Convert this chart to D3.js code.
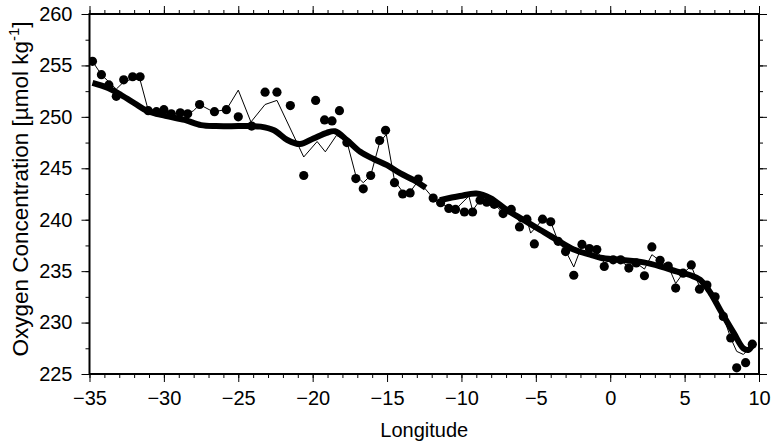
<!DOCTYPE html>
<html>
<head>
<meta charset="utf-8">
<script src="https://cdn.jsdelivr.net/npm/d3@7"></script>
<style>
  html, body { margin: 0; padding: 0; background: #fff; }
  svg { display: block; }
  text { font-family: "Liberation Sans", Arial, Helvetica, sans-serif; fill: #000; }
</style>
</head>
<body>
<svg id="chart" width="772" height="443"></svg>
<script>
// ---- Data ----
// Observed oxygen concentrations (dots): longitude, value
const dotLon = [-34.8,-34.2,-33.7,-33.2,-32.7,-32.1,-31.6,-31.05,-30.5,-30.0,-29.5,-28.9,-28.4,-27.6,-26.6,-25.8,-25.0,-24.1,-23.2,-22.4,-21.5,-20.6,-19.8,-19.2,-18.7,-18.2,-17.7,-17.1,-16.6,-16.1,-15.5,-15.1,-14.5,-13.95,-13.45,-12.9,-11.9,-11.4,-10.85,-10.4,-9.8,-9.25,-8.75,-8.3,-7.8,-7.2,-6.65,-6.1,-5.6,-5.1,-4.55,-4.0,-3.5,-3.0,-2.45,-1.9,-1.4,-0.9,-0.4,0.2,0.7,1.25,1.75,2.3,2.8,3.35,3.9,4.4,4.9,5.45,6.0,6.5,7.05,7.6,8.1,8.5,9.1,9.55];
const dotVal = [255.4,254.1,253.1,252.0,253.6,253.9,253.9,250.6,250.5,250.7,250.3,250.4,250.3,251.2,250.5,250.7,250.0,249.1,252.4,252.4,251.1,244.3,251.6,249.7,249.6,250.6,247.5,244.0,243.0,244.3,247.7,248.7,243.6,242.5,242.6,243.95,242.1,241.65,241.1,241.0,240.75,240.75,241.9,241.7,241.5,240.6,241.0,239.3,240.05,237.65,240.05,239.8,237.9,236.9,234.6,237.6,237.2,237.1,235.45,236.1,236.1,235.3,235.8,234.55,237.35,236.05,235.5,233.35,234.8,235.6,233.25,233.65,232.5,230.6,228.5,225.6,226.1,227.9];

// Thin line series
const thinLon = [-34.8,-34.2,-33.2,-32.7,-32.1,-31.6,-31.1,-30.5,-30.0,-29.5,-28.9,-28.4,-28.0,-27.6,-26.7,-25.8,-25.0,-24.15,-23.2,-22.4,-20.6,-19.7,-19.15,-18.4,-17.7,-17.1,-16.6,-16.1,-15.5,-15.05,-14.5,-13.95,-13.45,-12.9,-11.9,-11.4,-10.85,-10.4,-9.5,-9.25,-8.75,-8.3,-7.8,-7.2,-6.65,-6.1,-5.6,-5.35,-4.55,-4.0,-3.5,-3.0,-2.45,-1.9,-1.4,-0.9,-0.4,0.2,0.7,1.25,1.75,2.3,2.8,3.35,3.9,4.4,4.9,5.45,6.0,6.5,7.05,7.6,8.1,8.5,8.95,9.55];
const thinVal = [255.4,254.1,252.7,253.4,253.7,253.6,250.9,250.5,250.5,250.3,250.3,250.3,250.6,251.2,250.5,250.7,252.6,249.5,251.2,251.6,246.1,247.6,246.6,248.2,247.6,244.3,243.6,244.3,247.5,248.3,243.8,242.7,242.7,243.8,242.1,241.6,241.2,241.0,242.3,240.9,241.9,241.7,241.5,240.7,241.0,239.8,240.0,238.7,240.0,239.8,237.9,237.0,235.4,237.5,237.2,237.0,235.8,236.1,236.0,235.4,235.8,235.2,236.6,236.0,235.5,233.8,234.8,235.5,233.5,233.6,232.5,230.6,228.5,227.2,226.9,227.8];

// Thick smoothed curve, two segments
const smoothALon = [-34.8,-33.75,-32.85,-31.95,-31.15,-29.9,-28.6,-27.5,-26.5,-25.0,-24.1,-23.5,-22.6,-21.7,-20.85,-19.95,-19.05,-18.5,-17.7,-16.8,-15.9,-15.0,-14.1,-13.2,-12.4];
const smoothAVal = [253.3,252.8,252.1,251.3,250.6,250.1,249.7,249.2,249.1,249.1,249.1,249.05,248.7,247.75,247.35,247.9,248.45,248.6,247.75,246.6,245.9,245.3,244.5,243.85,243.1];
const smoothBLon = [-11.45,-10.1,-9.0,-8.05,-6.95,-5.85,-4.7,-3.6,-2.45,-1.35,-0.65,0.6,2.25,3.4,4.5,5.4,6.05,6.75,7.4,8.3,8.95,9.3,9.55];
const smoothBVal = [241.9,242.3,242.55,242.1,240.95,240.0,239.0,238.05,237.1,236.6,236.3,236.1,235.85,235.45,234.95,234.6,234.15,232.85,231.2,229.0,227.5,227.35,227.8];

// Axis tick values
const xTickLabels = [-35,-30,-25,-20,-15,-10,-5,0,5,10];
const yTickLabels = [225,230,235,240,245,250,255,260];
const xMinorTicks = d3.range(-35, 10.01, 1);
const yMinorTicks = d3.range(225, 260.01, 2.5);

// ---- Layout ----
const W = 772, H = 443;
const m = {left: 89.5, right: 13, top: 14, bottom: 69};
const svg = d3.select("#chart");

const x = d3.scaleLinear().domain([-35, 10]).range([m.left, W - m.right]);
const y = d3.scaleLinear().domain([225, 260]).range([H - m.bottom, m.top]);

const fontSize = 20;

// Minor ticks (all four sides, outward)
function minorAxis(axis, tr) {
  const g = svg.append("g").attr("transform", tr).call(axis);
  g.select(".domain").remove();
  g.selectAll("line").attr("stroke", "#000").attr("stroke-width", 1);
  return g;
}
minorAxis(d3.axisBottom(x).tickValues(xMinorTicks).tickSize(4).tickFormat(""), `translate(0,${H - m.bottom})`);
minorAxis(d3.axisTop(x).tickValues(xMinorTicks).tickSize(4).tickFormat(""), `translate(0,${m.top})`);
minorAxis(d3.axisLeft(y).tickValues(yMinorTicks).tickSize(4).tickFormat(""), `translate(${m.left},0)`);
minorAxis(d3.axisRight(y).tickValues(yMinorTicks).tickSize(4).tickFormat(""), `translate(${W - m.right},0)`);

// Major ticks + labels
const gx = svg.append("g").attr("transform", `translate(0,${H - m.bottom})`)
  .call(d3.axisBottom(x).tickValues(xTickLabels).tickSize(8).tickPadding(9).tickFormat(d3.format("d")));
gx.select(".domain").remove();
gx.selectAll("line").attr("stroke", "#000").attr("stroke-width", 1);
gx.selectAll("text").attr("font-size", fontSize).attr("font-family", "Liberation Sans, Arial, sans-serif").attr("fill", "#000");

const gxt = svg.append("g").attr("transform", `translate(0,${m.top})`)
  .call(d3.axisTop(x).tickValues(xTickLabels).tickSize(8).tickFormat(""));
gxt.select(".domain").remove();
gxt.selectAll("line").attr("stroke", "#000").attr("stroke-width", 1);

const gy = svg.append("g").attr("transform", `translate(${m.left},0)`)
  .call(d3.axisLeft(y).tickValues(yTickLabels).tickSize(8).tickPadding(9).tickFormat(d3.format("d")));
gy.select(".domain").remove();
gy.selectAll("line").attr("stroke", "#000").attr("stroke-width", 1);
gy.selectAll("text").attr("font-size", fontSize).attr("font-family", "Liberation Sans, Arial, sans-serif").attr("fill", "#000");

const gyr = svg.append("g").attr("transform", `translate(${W - m.right},0)`)
  .call(d3.axisRight(y).tickValues(yTickLabels).tickSize(8).tickFormat(""));
gyr.select(".domain").remove();
gyr.selectAll("line").attr("stroke", "#000").attr("stroke-width", 1);

// Frame
svg.append("rect")
  .attr("x", m.left).attr("y", m.top)
  .attr("width", W - m.left - m.right).attr("height", H - m.top - m.bottom)
  .attr("fill", "none").attr("stroke", "#000").attr("stroke-width", 2);

// Clip
svg.append("clipPath").attr("id", "clip").append("rect")
  .attr("x", m.left).attr("y", m.top)
  .attr("width", W - m.left - m.right).attr("height", H - m.top - m.bottom);

const plot = svg.append("g").attr("clip-path", "url(#clip)");

// Thin line
const thinData = thinLon.map((d, i) => [d, thinVal[i]]);
plot.append("path")
  .datum(thinData)
  .attr("fill", "none").attr("stroke", "#000").attr("stroke-width", 1)
  .attr("d", d3.line().x(d => x(d[0])).y(d => y(d[1])));

// Thick smooth line segments
const smoothLine = d3.line().x(d => x(d[0])).y(d => y(d[1])).curve(d3.curveCatmullRom.alpha(0.5));
[[smoothALon, smoothAVal], [smoothBLon, smoothBVal]].forEach(([lx, ly]) => {
  plot.append("path")
    .datum(lx.map((d, i) => [d, ly[i]]))
    .attr("fill", "none").attr("stroke", "#000").attr("stroke-width", 6)
    .attr("stroke-linejoin", "round")
    .attr("d", smoothLine);
});

// Dots
plot.selectAll("circle.dot")
  .data(dotLon.map((d, i) => [d, dotVal[i]]))
  .enter().append("circle")
  .attr("class", "dot")
  .attr("cx", d => x(d[0])).attr("cy", d => y(d[1]))
  .attr("r", 4.6).attr("fill", "#000");

// Axis titles
svg.append("text")
  .attr("x", (m.left + W - m.right) / 2).attr("y", 437)
  .attr("text-anchor", "middle").attr("font-size", fontSize)
  .text("Longitude");

const yl = svg.append("text")
  .attr("transform", `translate(28,189) rotate(-90)`)
  .attr("text-anchor", "middle").attr("font-size", 22.5);
yl.append("tspan").text("Oxygen Concentration [µmol kg");
yl.append("tspan").attr("font-size", 15).attr("dy", -9).text("-1");
yl.append("tspan").attr("dy", 9).text("]");
</script>
</body>
</html>
